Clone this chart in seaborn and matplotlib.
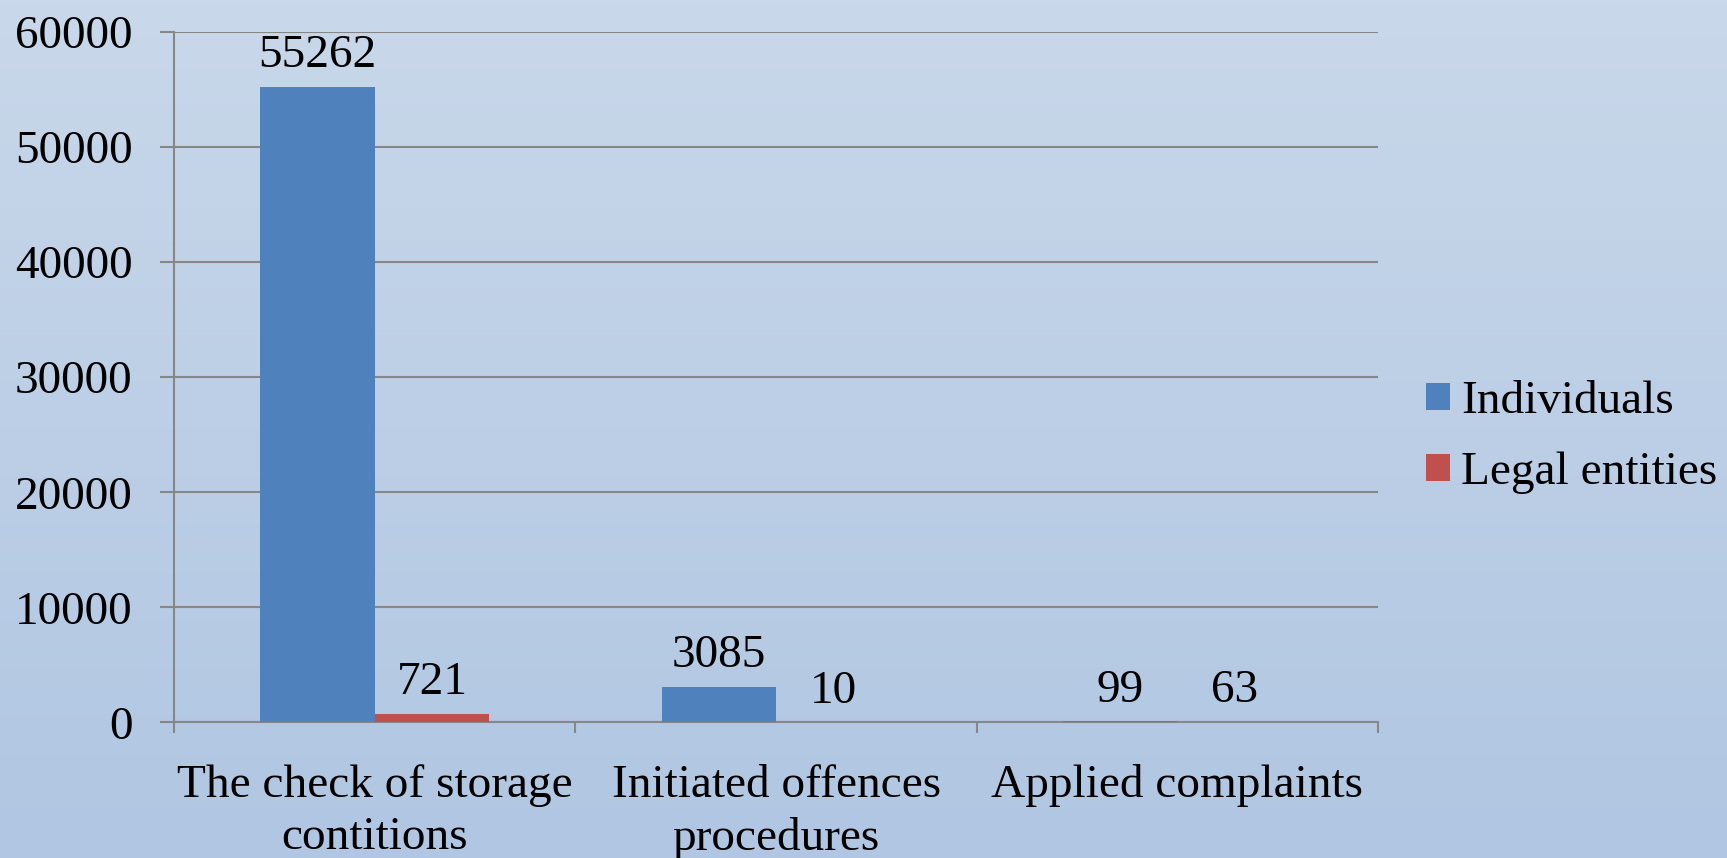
"""
Grouped bar chart: checks, offences and complaints for
individuals and legal entities.
"""
import numpy as np
import pandas as pd
import seaborn as sns
import matplotlib.pyplot as plt
from matplotlib.colors import LinearSegmentedColormap

categories = ['The check of storage\ncontitions', 'Initiated offences\nprocedures',
              'Applied complaints']
groups = ['Individuals', 'Legal entities']
individuals = [55262, 3085, 99]
legal_entities = [721, 10, 63]
yticks = [0, 10000, 20000, 30000, 40000, 50000, 60000]

BLUE = '#4F81BD'
RED = '#C0504D'
GRID = '#878787'


def build_frame():
    """Long form table for seaborn."""
    rows = []
    for cat, a, b in zip(categories, individuals, legal_entities):
        rows.append((cat, groups[0], a))
        rows.append((cat, groups[1], b))
    return pd.DataFrame(rows, columns=['category', 'group', 'value'])


def plot_chart():
    sns.set_theme(style='white')
    plt.rcParams['font.family'] = ['Liberation Serif', 'DejaVu Serif']
    plt.rcParams['font.size'] = 34
    plt.rcParams['text.color'] = 'black'
    plt.rcParams['xtick.labelcolor'] = 'black'
    plt.rcParams['ytick.labelcolor'] = 'black'

    fig = plt.figure(figsize=(17.27, 8.58), dpi=100)

    # Gradient background behind everything
    bg = fig.add_axes([0, 0, 1, 1], zorder=-10)
    cmap = LinearSegmentedColormap.from_list('bg', ['#c9d8ea', '#b0c6e2'])
    bg.imshow(np.linspace(0, 1, 256).reshape(-1, 1), aspect='auto', cmap=cmap,
              extent=[0, 1, 0, 1])
    bg.set_axis_off()

    ax = fig.add_axes([0.1008, 0.158, 0.6972, 0.8047])
    ax.set_facecolor('none')

    df = build_frame()
    sns.barplot(data=df, x='category', y='value', hue='group',
                palette=[BLUE, RED], width=0.571, saturation=1,
                errorbar=None, ax=ax, legend=True, zorder=3, linewidth=0)

    for cont in ax.containers:
        ax.bar_label(cont, padding=7, fontsize=34, color='black')

    ax.set_ylim(0, 60000)
    ax.set_xlim(-0.5, 2.5)
    ax.set_yticks(yticks)
    ax.set_yticklabels([str(t) for t in yticks])
    ax.yaxis.grid(True, color=GRID, linewidth=1.5, zorder=0)
    ax.set_axisbelow(True)
    ax.set_xlabel('')
    ax.set_ylabel('')

    for side in ['top', 'right']:
        ax.spines[side].set_visible(False)
    for side in ['left', 'bottom']:
        ax.spines[side].set_color(GRID)
        ax.spines[side].set_linewidth(1.5)

    ax.tick_params(axis='y', which='major', length=10, width=1.5, color=GRID,
                   pad=20, labelsize=34, left=True, labelcolor='black')
    ax.tick_params(axis='x', which='major', length=0, pad=30, labelsize=34,
                   labelcolor='black')
    ax.set_xticks([-0.5, 0.5, 1.5, 2.5], minor=True)
    ax.tick_params(axis='x', which='minor', length=8, width=1.5, color=GRID,
                   bottom=True)
    for lab in ax.get_xticklabels():
        lab.set_linespacing(1.3)

    handles, labels = ax.get_legend_handles_labels()
    ax.get_legend().remove()
    fig.legend(handles, labels, loc='center left', bbox_to_anchor=(0.8257, 0.49),
               frameon=False, fontsize=34, handlelength=0.5, handleheight=0.5,
               handletextpad=0.25, labelspacing=0.6, borderpad=0,
               borderaxespad=0)

    fig.savefig('out.png', dpi=100)


if __name__ == '__main__':
    plot_chart()
